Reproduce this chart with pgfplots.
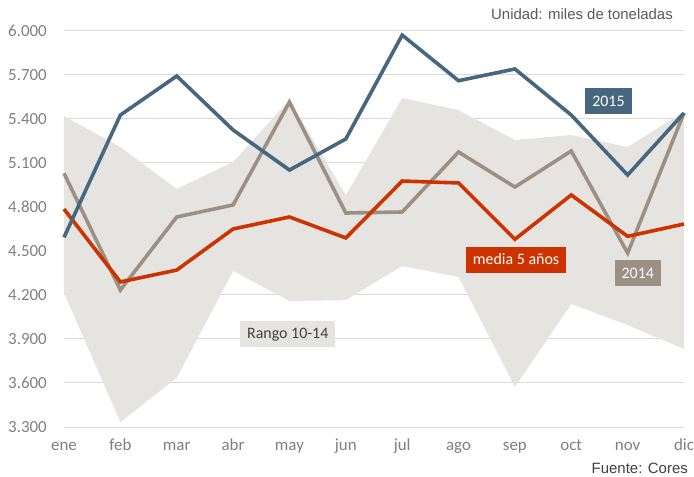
\documentclass[border=0pt]{standalone}
\usepackage{pgfplots}
\pgfplotsset{compat=1.18}
\usepackage{fontspec}
\setmainfont{Carlito}
\newfontfamily\arialfont{Liberation Sans}
\definecolor{c2015}{HTML}{46677E}
\definecolor{c2014}{HTML}{9C9085}
\definecolor{cmedia}{HTML}{CC3300}
\definecolor{crango}{HTML}{E6E4E1}
\definecolor{cgrid}{HTML}{D9D9D9}
\definecolor{ctick}{HTML}{808080}
\begin{document}
\begin{tikzpicture}
\path (0,0) rectangle (694bp,477bp);
\begin{axis}[
  at={(64bp,50bp)}, anchor=south west,
  scale only axis, width=620bp, height=396bp,
  xmin=0, xmax=11, ymin=3300, ymax=6000,
  xtick={0,...,11},
  xticklabels={ene,feb,mar,abr,may,jun,jul,ago,sep,oct,nov,dic},
  ytick={3300,3600,...,6000},
  yticklabels={3.300,3.600,3.900,4.200,4.500,4.800,5.100,5.400,5.700,6.000},
  ymajorgrids, major grid style={cgrid, line width=1bp},
  axis line style={draw=none},
  major tick length=0pt,
  tick label style={font=\fontsize{17}{19}\selectfont, text=ctick},
  yticklabel style={anchor=east, inner sep=0pt, xshift=-17bp},
  xticklabel style={anchor=base, inner sep=0pt, yshift=-23bp},
  clip=false,
]
% Rango 10-14: upper bound ene..dic, then lower bound dic..ene
\addplot[draw=none, fill=crango] coordinates {
(0,5420) (1,5209) (2,4923) (3,5107) (4,5530) (5,4880) (6,5543) (7,5461) (8,5257) (9,5291) (10,5209) (11,5450)
(11,3832) (10,3995) (9,4139) (8,3573) (7,4323) (6,4398) (5,4165) (4,4159) (3,4364) (2,3634) (1,3334) (0,4214)} -- cycle;
\addplot[c2014, line width=3.6bp, line join=miter] coordinates {
(0,5030) (1,4234) (2,4732) (3,4814) (4,5516) (5,4759) (6,4766) (7,5175) (8,4936) (9,5182) (10,4486) (11,5441)};
\addplot[cmedia, line width=3.6bp, line join=miter] coordinates {
(0,4786) (1,4289) (2,4370) (3,4650) (4,4732) (5,4589) (6,4977) (7,4964) (8,4580) (9,4882) (10,4600) (11,4684)};
\addplot[c2015, line width=3.6bp, line join=miter] coordinates {
(0,4593) (1,5427) (2,5693) (3,5325) (4,5052) (5,5264) (6,5972) (7,5661) (8,5741) (9,5427) (10,5018) (11,5441)};
\node[fill=c2015, text=white, font=\fontsize{16}{18}\selectfont, inner xsep=7bp, minimum height=26bp] at (axis cs:9.66,5523) {2015};
\node[fill=cmedia, text=white, font=\fontsize{16}{18}\selectfont, inner xsep=7bp, minimum height=26bp] at (axis cs:8.02,4442) {media 5 años};
\node[fill=c2014, text=white, font=\fontsize{16}{18}\selectfont, inner xsep=7bp, minimum height=26bp] at (axis cs:10.18,4347) {2014};
\node[fill=crango, text=black!75, font=\fontsize{16}{18}\selectfont, inner xsep=7bp, minimum height=26bp] at (axis cs:3.97,3931) {Rango 10-14};
\end{axis}
\node[anchor=east, inner sep=0pt, text=black!65, font=\arialfont\fontsize{15}{17}\selectfont] at (673bp,463bp) {Unidad: miles de toneladas};
\node[anchor=east, inner sep=0pt, text=black!75, font=\arialfont\fontsize{15}{17}\selectfont] at (688bp,9bp) {Fuente: Cores};
\useasboundingbox (0,0) rectangle (694bp,477bp);
\end{tikzpicture}
\end{document}
